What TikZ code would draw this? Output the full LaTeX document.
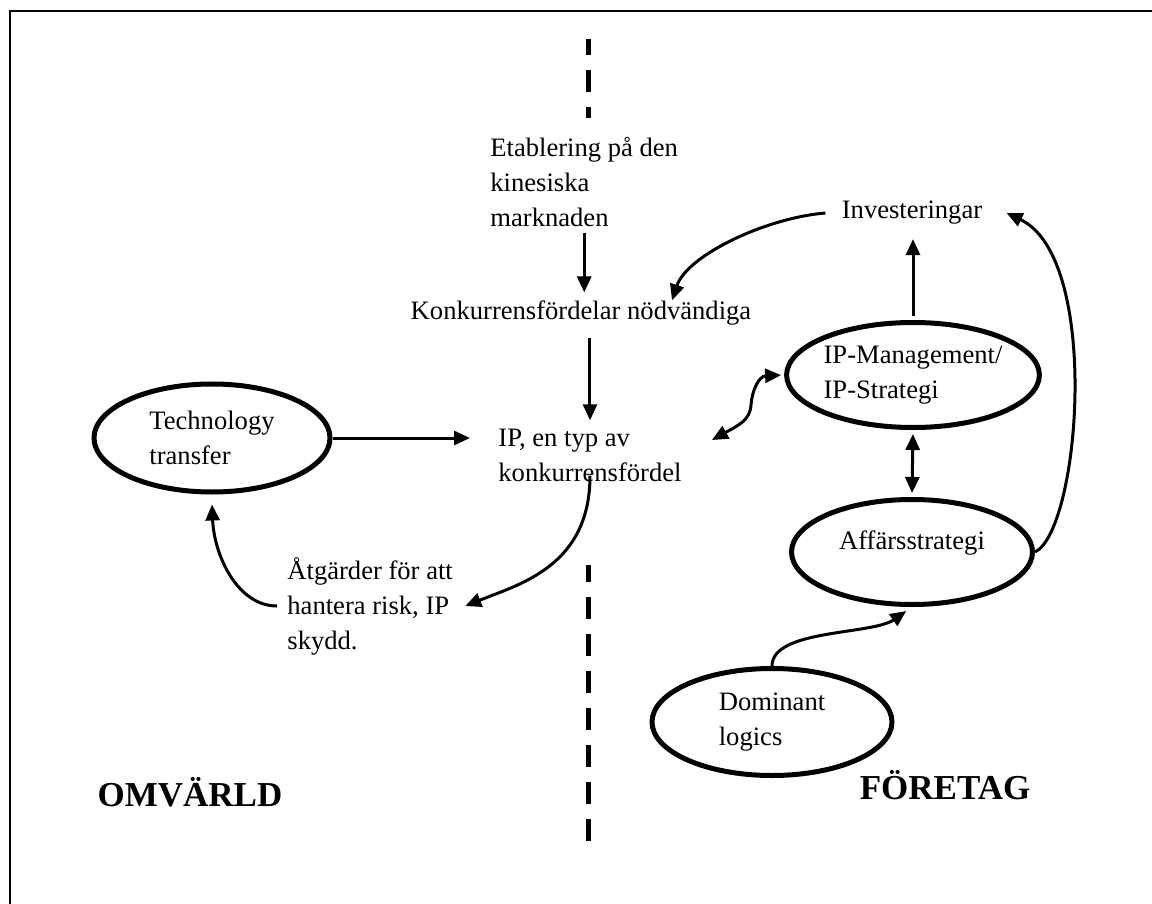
\documentclass[tikz,border=0pt]{standalone}
\usepackage{fontspec}
\setmainfont{Liberation Serif}
\usetikzlibrary{arrows.meta,shapes.geometric}
\begin{document}
\begin{tikzpicture}[x=0.5pt,y=-0.5pt,
  txt/.style={inner sep=0pt, align=left, font=\fontsize{13.3}{17.5}\selectfont},
  oval/.style={draw, ellipse, line width=2.5pt, inner sep=0pt, align=left, font=\fontsize{13.3}{17.5}\selectfont},
  arr/.style={-{Triangle[length=8pt,width=7pt]}, line width=1.5pt},
  darr/.style={{Triangle[length=8pt,width=7pt]}-{Triangle[length=8pt,width=7pt]}, line width=1.5pt},
  divider/.style={line width=2.5pt, dash pattern=on 11pt off 7.5pt},
  big/.style={font=\fontsize{17.5}{21}\selectfont\bfseries, inner sep=0pt}]
\useasboundingbox (0,0) rectangle (1152,904);
\draw[line width=1.2pt] (10,904) -- (10,11) -- (1152,11);
\draw[divider, dash phase=3pt] (588,39) -- (588,118);
\draw[divider] (588,841) -- (588,565);

\node[txt, anchor=west] (etab) at (490,182) {Etablering på den\\kinesiska\\marknaden};
\node[txt] (konk) at (581,313) {Konkurrensfördelar nödvändiga};
\node[txt, anchor=west] (ip) at (498,455) {IP, en typ av\\konkurrensfördel};
\node[txt, anchor=west] (atg) at (287,606) {Åtgärder för att\\hantera risk, IP\\skydd.};
\node[txt] (inv) at (912,213) {Investeringar};
\node[oval, minimum width=118pt, minimum height=54pt] (tech) at (212,438) {Technology\\transfer};
\node[oval, minimum width=121pt, minimum height=52.5pt] (ipm) at (913,375) {IP-Management/\\IP-Strategi};
\node[oval, minimum width=120.5pt, minimum height=52.5pt] (aff) at (912,552) {\smash{\raisebox{1.5pt}{Affärsstrategi}}};
\node[oval, minimum width=120pt, minimum height=53.5pt] (dom) at (772,722) {Dominant\\logics};
\node[big] (omv) at (190,792) {OMVÄRLD};
\node[big] (fore) at (945,785) {FÖRETAG};

\draw[arr, shorten <=3pt, shorten >=4pt] (etab.south) -- (etab.south |- konk.north);
\draw[arr, shorten <=6pt, shorten >=4pt] (ip.north |- konk.south) -- (ip.north);
\draw[arr, shorten >=14pt] (tech.east) -- (tech.east -| ip.west);
\draw[arr] ([yshift=3pt]ip.south) .. controls +(0,90) and +(55,-22) .. ([xshift=6pt]atg.east);
\draw[arr] ([xshift=-5pt]atg.west) .. controls +(-40,0) and +(2,50) .. ([yshift=-5pt]tech.south);
\draw[arr] ([xshift=-8pt]inv.west) .. controls +(-60,5) and +(15,-45) .. ([xshift=45.5pt]konk.north);
\draw[arr, shorten <=2pt, shorten >=7pt] (ipm.north) -- (ipm.north |- inv.south);
\draw[darr, shorten >=1.5pt] ([shift={(30,-15)}]ip.east) .. controls +(27,-15) and +(-1,15) .. (751,405) .. controls +(1,-15) and +(-25,1) .. (ipm.west);
\draw[darr, shorten <=2pt, shorten >=2pt] (ipm.south) -- (aff.north);
\draw[arr] (aff.east) .. controls +(45,-22) and +(95,45) .. ([xshift=12pt]inv.east);
\draw[arr, shorten >=3.5pt] (dom.north) .. controls +(0,-37) and +(-40,28) .. (aff.south);
\end{tikzpicture}
\end{document}
